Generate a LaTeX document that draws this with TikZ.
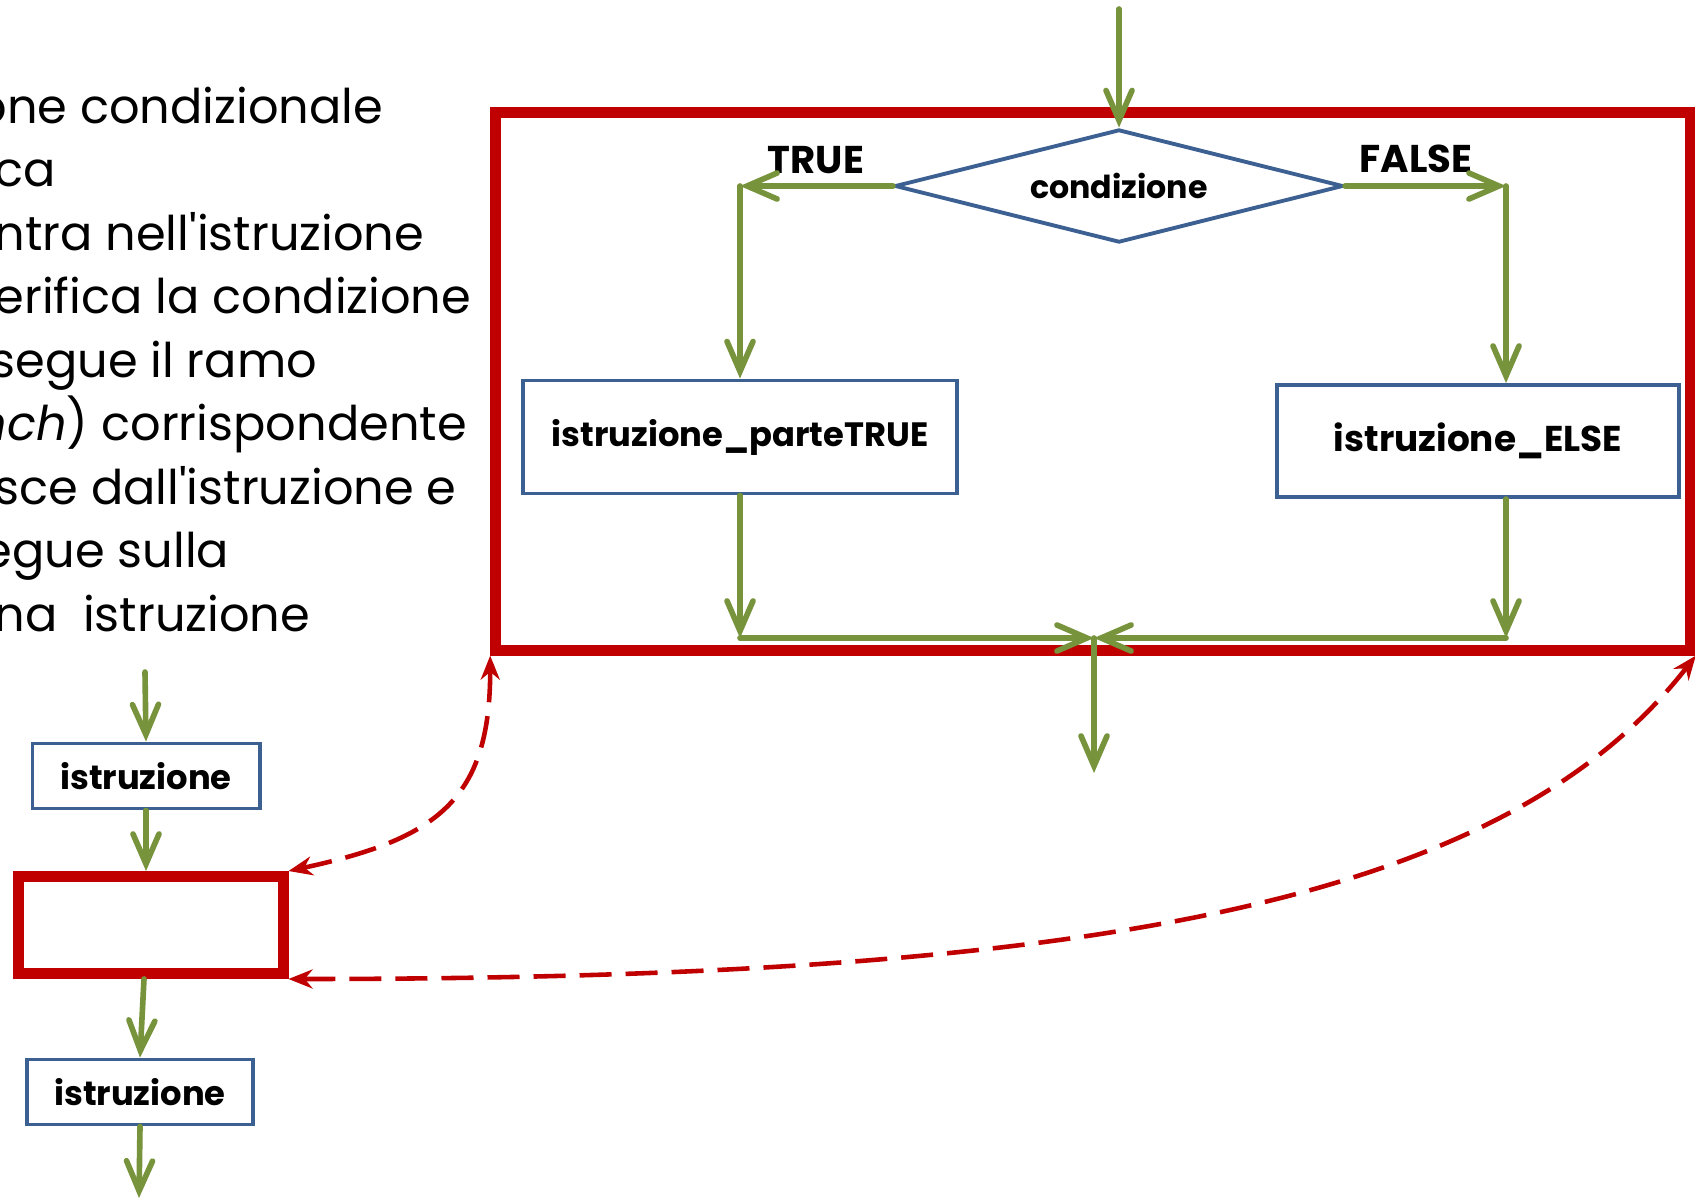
\documentclass[tikz,border=0pt]{standalone}
\usepackage{fontspec}
\setmainfont{Poppins}
\newfontfamily\testo{Poppins}
\usetikzlibrary{arrows.meta,positioning,shapes.geometric,calc}
\definecolor{verde}{RGB}{119,147,60}
\definecolor{blu}{RGB}{60,96,145}
\definecolor{rosso}{RGB}{192,0,0}
\tikzset{
  istr/.style={draw=blu,line width=1.1pt,align=center,fill=white,inner sep=2pt,font=\bfseries\fontsize{9.6}{11}\selectfont},
  cond/.style={istr,diamond,aspect=4,inner sep=0pt,minimum width=4.48cm,minimum height=1.13cm,font=\bfseries\fontsize{9}{11}\selectfont},
  blocco/.style={draw=rosso,line width=3.1pt,inner sep=0pt},
  freccia/.style={draw=verde,line width=1.6pt,line cap=round,-{Straight Barb[length=3mm,width=2.6mm,line cap=round]}},
  tratto/.style={draw=rosso,line width=1.3pt,dash pattern=on 0.32cm off 0.14cm,{Stealth[length=2.4mm,width=1.9mm]}-{Stealth[length=2.4mm,width=1.9mm]}},
  riga/.style={anchor=base west,inner sep=0pt,font=\testo\fontsize{13.6}{15}\selectfont},
  etich/.style={inner sep=1pt,font=\bfseries\fontsize{11}{13}\selectfont}
}
\begin{document}
\begin{tikzpicture}[x=0.01cm,y=-0.01cm]
\fill[white] (0,0) rectangle (1695,1200);
\useasboundingbox (0,0) rectangle (1695,1200);
% testo a sinistra
\node[riga] (r1) at (-24,123) {one condizionale};
\node[riga] (r2) at (-6,186.5) {ca};
\node[riga] (r3) at (-6,250) {ntra nell'istruzione};
\node[riga] (r4) at (-6,313.5) {erifica la condizione};
\node[riga] (r5) at (-10,377) {segue il ramo};
\node[riga] (r6) at (-24,440.5) {\textit{nch}) corrispondente};
\node[riga] (r7) at (-6,504) {sce dall'istruzione e};
\node[riga] (r8) at (-18,567.5) {egue sulla};
\node[riga] (r9) at (-6,631) {na~ istruzione};
% blocco if-else
\node[blocco,minimum width=11.94cm,minimum height=5.37cm] (ifelse) at (1093,381.5) {};
\node[cond] (cond) at (1119,186) {condizione};
\node[istr,minimum width=4.34cm,minimum height=1.13cm] (vero) at (740,437) {istruzione\_parteTRUE};
\node[istr,minimum width=4.02cm,minimum height=1.12cm,font=\bfseries\fontsize{10.2}{12}\selectfont] (falso) at (1478,441) {istruzione\_ELSE};
\node[etich] (lvero) at (816,160) {TRUE};
\node[etich] (lfalso) at (1416,159) {FALSE};
\coordinate (ingresso) at (1119,9);
\coordinate (fv) at (1506,186);
\coordinate (unione) at (1094,638);
\coordinate (uscita) at (1094,773);
\draw[freccia] (ingresso) -- (cond.north);
\draw[freccia] (cond.west) -- (cond.west -| vero.north);
\draw[freccia] (cond.west -| vero.north) -- (vero.north);
\draw[freccia] (cond.east) -- (fv);
\draw[freccia] (fv) -- (fv |- falso.north);
\draw[freccia] (vero.south) -- (vero.south |- unione);
\draw[freccia] (vero.south |- unione) -- (unione);
\draw[freccia] (fv |- falso.south) -- (fv |- unione);
\draw[freccia] (fv |- unione) -- (unione);
\draw[freccia] (unione) -- (uscita);
% sequenza a sinistra
\node[istr,minimum width=2.27cm,minimum height=0.65cm] (istr1) at (146,776) {istruzione};
\node[blocco,minimum width=2.64cm,minimum height=0.97cm] (rossino) at (151,925) {};
\node[istr,minimum width=2.26cm,minimum height=0.65cm] (istr2) at (140,1092) {istruzione};
\coordinate (in1) at (145,672);
\coordinate (out2) at (139,1198);
\draw[freccia] (in1) -- (istr1.north);
\draw[freccia] (istr1.south) -- (istr1.south |- rossino.north);
\draw[freccia] ($(rossino.south)+(-7,0)$) -- (istr2.north);
\draw[freccia] (istr2.south) -- (out2);
% collegamenti tratteggiati
\draw[tratto] (ifelse.south west) .. controls +(0,145) and +(148,-32) .. (rossino.north east);
\draw[tratto] (ifelse.south east) .. controls +(-192,247) and +(808,0) .. (rossino.south east);
\end{tikzpicture}
\end{document}
